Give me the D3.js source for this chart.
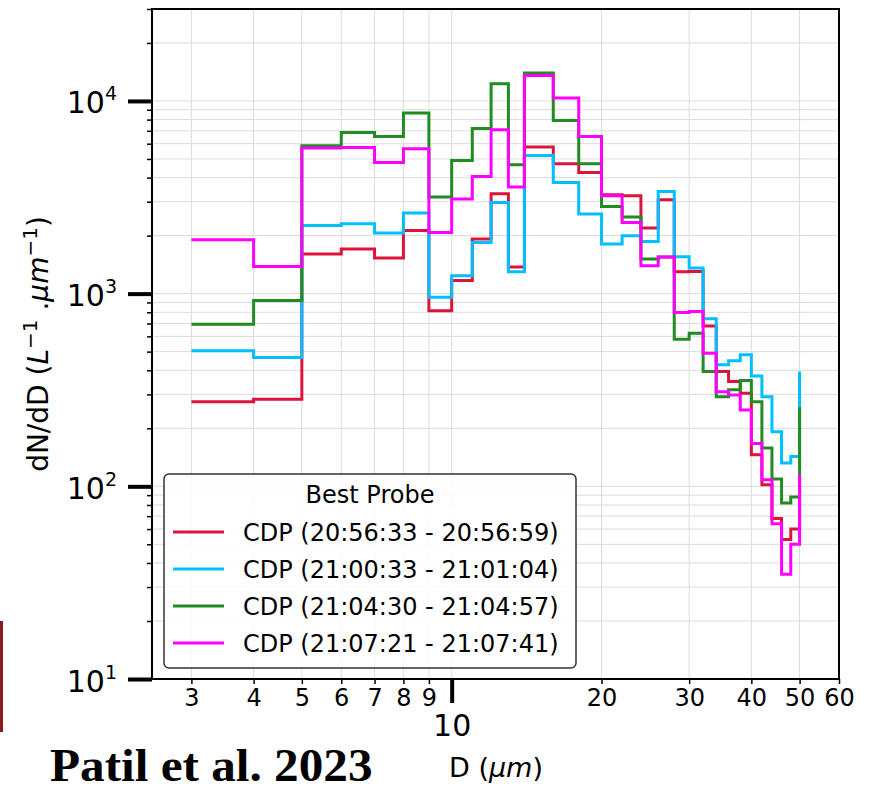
<!DOCTYPE html>
<html>
<head>
<meta charset="utf-8">
<script src="https://cdn.jsdelivr.net/npm/d3@7"></script>
<style>
  body { margin: 0; background: #fff; }
  svg { display: block; }
  text { font-family: "DejaVu Sans", sans-serif; fill: #000; }
</style>
</head>
<body>
<div id="chart"></div>
<script>
// CDP bin edges (um) used as step positions
var diameters = [3, 4, 5, 6, 7, 8, 9, 10, 11, 12, 13, 14, 16, 18, 20, 22, 24, 26, 28, 30,
                 32, 34, 36, 38, 40, 42, 44, 46, 48, 50];

// dN/dD (L^-1 um^-1)
var cdp205633 = [275, 283, 1604, 1702, 1529, 2126, 814, 1170, 1918, 3296, 1373, 5764, 4720, 4254,
                 3258, 3219, 2188, 3069, 1298, 1303, 680, 394, 350, 304, 146, 102, 68, 53, 60, 100];
var cdp210033 = [506, 466, 2258, 2303, 2061, 2618, 959, 1237, 1842, 2972, 1298, 5213, 3775, 2587,
                 1807, 1995, 1864, 3389, 1552, 1357, 740, 427, 448, 481, 374, 292, 192, 132, 143, 394];
var cdp210430 = [694, 921, 5854, 6862, 6543, 8654, 3170, 4910, 7200, 12285, 4665, 13960, 7922, 4720,
                 2833, 2496, 1511, 1548, 580, 623, 394, 292, 317, 354, 275, 158, 109, 82, 88, 257];
var cdp210721 = [1903, 1382, 5694, 5735, 4795, 5646, 2076, 3095, 4055, 7087, 3573, 13565, 10352, 6543,
                 3219, 2340, 1394, 1548, 798, 807, 491, 310, 298, 249, 167, 108, 64, 35, 50, 116];

var seriesNames = ["CDP (20:56:33 - 20:56:59)", "CDP (21:00:33 - 21:01:04)",
                   "CDP (21:04:30 - 21:04:57)", "CDP (21:07:21 - 21:07:41)"];
var seriesColors = ["#dc143c", "#00bfff", "#228b22", "#ff00ff"];

var xMinorTicks = [3, 4, 5, 6, 7, 8, 9, 20, 30, 40, 50, 60];
var xMajorTicks = [10];
var yMajorTicks = [10, 100, 1000, 10000];
var yMinorTicks = [20, 30, 40, 50, 60, 70, 80, 90, 200, 300, 400, 500, 600, 700, 800, 900,
                   2000, 3000, 4000, 5000, 6000, 7000, 8000, 9000, 20000, 30000];

var width = 872, height = 792;
var plotL = 152, plotR = 839, plotT = 9, plotB = 679;

var svg = d3.select("#chart").append("svg")
    .attr("width", width)
    .attr("height", height);

var x = d3.scaleLog().domain([2.5, 60]).range([plotL, plotR]);
var y = d3.scaleLog().domain([10, 30000]).range([plotB, plotT]);

// grid
var grid = svg.append("g").attr("class", "grid");
grid.selectAll(".gx")
    .data(xMinorTicks.concat(xMajorTicks))
    .enter().append("line")
    .attr("x1", d => x(d)).attr("x2", d => x(d))
    .attr("y1", plotT).attr("y2", plotB)
    .style("stroke", "#dcdcdc").style("stroke-width", 1);
grid.selectAll(".gy")
    .data(yMinorTicks.concat(yMajorTicks))
    .enter().append("line")
    .attr("x1", plotL).attr("x2", plotR)
    .attr("y1", d => y(d)).attr("y2", d => y(d))
    .style("stroke", "#dcdcdc").style("stroke-width", 1);

// series
var line = d3.line()
    .x(d => x(d[0]))
    .y(d => y(d[1]))
    .curve(d3.curveStepAfter);

var allSeries = [cdp205633, cdp210033, cdp210430, cdp210721];
allSeries.forEach(function (vals, i) {
    svg.append("path")
        .datum(diameters.map((dd, j) => [dd, vals[j]]))
        .attr("d", line)
        .style("fill", "none")
        .style("stroke", seriesColors[i])
        .style("stroke-width", 3)
        .style("stroke-linejoin", "miter");
});

// frame
svg.append("rect")
    .attr("x", plotL).attr("y", plotT)
    .attr("width", plotR - plotL).attr("height", plotB - plotT)
    .style("fill", "none").style("stroke", "#000").style("stroke-width", 2);

// x axis: minor labelled ticks
var xMinorAxis = svg.append("g")
    .attr("transform", "translate(0," + plotB + ")")
    .call(d3.axisBottom(x).tickValues(xMinorTicks).tickSize(5).tickFormat(d3.format("d")));
xMinorAxis.select(".domain").remove();
xMinorAxis.selectAll("line").style("stroke", "#000").style("stroke-width", 1.5);
xMinorAxis.selectAll("text").attr("y", 10).attr("dy", "0.71em")
    .style("font-size", "24px").style("font-family", "DejaVu Sans");

// x axis: major tick at 10
var xMajorAxis = svg.append("g")
    .attr("transform", "translate(0," + plotB + ")")
    .call(d3.axisBottom(x).tickValues(xMajorTicks).tickSize(24).tickFormat(d3.format("d")));
xMajorAxis.select(".domain").remove();
xMajorAxis.selectAll("line").style("stroke", "#000").style("stroke-width", 4);
xMajorAxis.selectAll("text").attr("y", 36).attr("dy", "0.71em")
    .style("font-size", "30px").style("font-family", "DejaVu Sans");

// y axis: minor ticks
var yMinorAxis = svg.append("g")
    .attr("transform", "translate(" + plotL + ",0)")
    .call(d3.axisLeft(y).tickValues(yMinorTicks).tickSize(5).tickFormat(""));
yMinorAxis.select(".domain").remove();
yMinorAxis.selectAll("line").style("stroke", "#000").style("stroke-width", 1.5);

// y axis: major ticks with 10^n labels
var yMajorAxis = svg.append("g")
    .attr("transform", "translate(" + plotL + ",0)")
    .call(d3.axisLeft(y).tickValues(yMajorTicks).tickSize(24).tickFormat(""));
yMajorAxis.select(".domain").remove();
yMajorAxis.selectAll("line").style("stroke", "#000").style("stroke-width", 4);
yMajorAxis.selectAll(".tick").each(function (d) {
    var t = d3.select(this).append("text")
        .attr("x", -35).attr("y", 12)
        .attr("text-anchor", "end")
        .style("font-size", "30px");
    t.append("tspan").text("10");
    t.append("tspan").attr("dy", -13).style("font-size", "19px")
        .text(Math.round(Math.log10(d)));
});

// axis titles
var ylab = svg.append("text")
    .attr("transform", "translate(48,344) rotate(-90)")
    .attr("text-anchor", "middle")
    .style("font-size", "28px");
ylab.append("tspan").text("dN/dD (");
ylab.append("tspan").style("font-style", "italic").text("L");
ylab.append("tspan").attr("dy", -11).style("font-size", "20px").text("\u22121");
ylab.append("tspan").attr("dy", 11).text(" .");
ylab.append("tspan").style("font-style", "italic").text("\u03bcm");
ylab.append("tspan").attr("dy", -11).style("font-size", "20px").text("\u22121");
ylab.append("tspan").attr("dy", 11).text(")");

var xlab = svg.append("text")
    .attr("x", 496).attr("y", 777)
    .attr("text-anchor", "middle")
    .style("font-size", "27px");
xlab.append("tspan").text("D (");
xlab.append("tspan").style("font-style", "italic").text("\u03bcm");
xlab.append("tspan").text(")");

// legend
var lg = svg.append("g").attr("transform", "translate(164,474)");
lg.append("rect")
    .attr("width", 412).attr("height", 194)
    .attr("rx", 5)
    .style("fill", "#fff").style("fill-opacity", 0.85)
    .style("stroke", "#333").style("stroke-width", 1.5);
lg.append("text")
    .attr("x", 206).attr("y", 29)
    .attr("text-anchor", "middle")
    .style("font-size", "24px")
    .text("Best Probe");
seriesNames.forEach(function (name, i) {
    var cy = 58 + i * 37;
    lg.append("line")
        .attr("x1", 9).attr("x2", 60)
        .attr("y1", cy).attr("y2", cy)
        .style("stroke", seriesColors[i]).style("stroke-width", 3);
    lg.append("text")
        .attr("x", 79).attr("y", cy + 9)
        .style("font-size", "24px")
        .text(name);
});

// citation and side bar
svg.append("rect")
    .attr("x", 0).attr("y", 621)
    .attr("width", 3).attr("height", 111)
    .style("fill", "#8b1a1a");
svg.append("text")
    .attr("transform", "translate(50,781) scale(1.07,1)")
    .style("font-family", "Liberation Serif")
    .style("font-weight", "bold")
    .style("font-size", "46px")
    .text("Patil et al. 2023");
</script>
</body>
</html>
